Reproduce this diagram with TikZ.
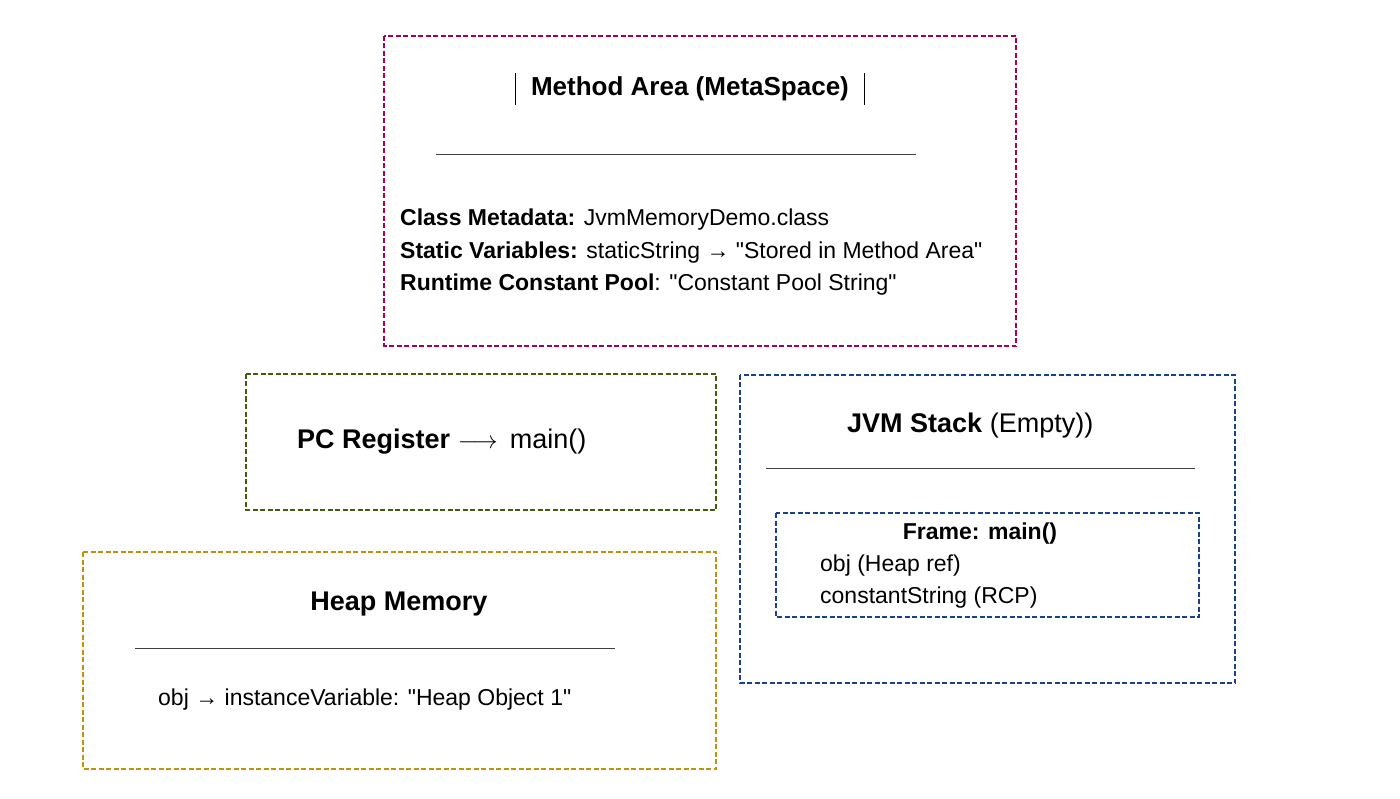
\documentclass[tikz,border=0pt]{standalone}
\usepackage{fontspec}
\setmainfont{Liberation Sans}
\usepackage{amsmath}
\definecolor{MethodRed}{RGB}{165,0,85}
\definecolor{PcGreen}{RGB}{65,95,10}
\definecolor{StackBlue}{RGB}{25,65,145}
\definecolor{HeapGold}{RGB}{195,145,10}
\newcommand{\q}{\textquotedbl}
\tikzset{
  area/.style={draw,line width=1.4pt,dash pattern=on 5pt off 2.5pt},
  rule/.style={draw,line width=0.7pt,black!75},
  txt/.style={anchor=west,inner sep=0pt,font=\fontsize{23}{27}\selectfont}
}
\begin{document}
\begin{tikzpicture}[x=1pt,y=-1pt]
	\useasboundingbox (0,0) rectangle (1400,799);
	\draw[area,MethodRed] (384,36) rectangle (1016,346);		%method area
	\draw[area,PcGreen] (246,374) rectangle (716,510);		%pc register
	\draw[area,StackBlue] (740,375) rectangle (1235,683);		%jvm stack
	\draw[area,StackBlue,line width=1.2pt] (776,513) rectangle (1199,617);	%frame
	\draw[area,HeapGold] (83,552) rectangle (716,769);		%heap
	%
	\node[font=\fontsize{26}{30}\selectfont] (mtitle) at (690,89) {\textbf{Method Area (MetaSpace)}};
	\draw[black,line width=0.8pt] ([xshift=-12pt]mtitle.north west) -- ([xshift=-12pt]mtitle.south west);
	\draw[black,line width=0.8pt] ([xshift=12pt]mtitle.north east) -- ([xshift=12pt]mtitle.south east);
	\draw[rule] (436,154) -- (916,154);
	\node[txt] (meta) at (400,220) {\textbf{Class Metadata:} JvmMemoryDemo.class};
	\node[txt] (static) at (400,253) {\textbf{Static Variables:} staticString → \q Stored in Method Area\q};
	\node[txt] (pool) at (400,285) {\textbf{Runtime Constant Pool}: \q Constant Pool String\q};
	%
	\node[txt,font=\fontsize{27}{31}\selectfont] (pc) at (297,442) {\textbf{PC Register} $\longrightarrow$\, main()};
	%
	\node[txt,font=\fontsize{27}{31}\selectfont] (stack) at (847,426) {\textbf{JVM Stack} (Empty))};
	\draw[rule] (766,468) -- (1195,468);
	\node[font=\fontsize{23}{27}\selectfont] (frame) at (980,534) {\textbf{Frame: main()}};
	\node[txt] (objref) at (820,566) {obj (Heap ref)};
	\node[txt] (cstr) at (820,598) {constantString (RCP)};
	%
	\node[font=\fontsize{27}{31}\selectfont] (heap) at (399,604) {\textbf{Heap Memory}};
	\draw[rule] (135,648) -- (615,648);
	\node[txt] (obj) at (158,700) {obj → instanceVariable: \q Heap Object 1\q};
\end{tikzpicture}
\end{document}
